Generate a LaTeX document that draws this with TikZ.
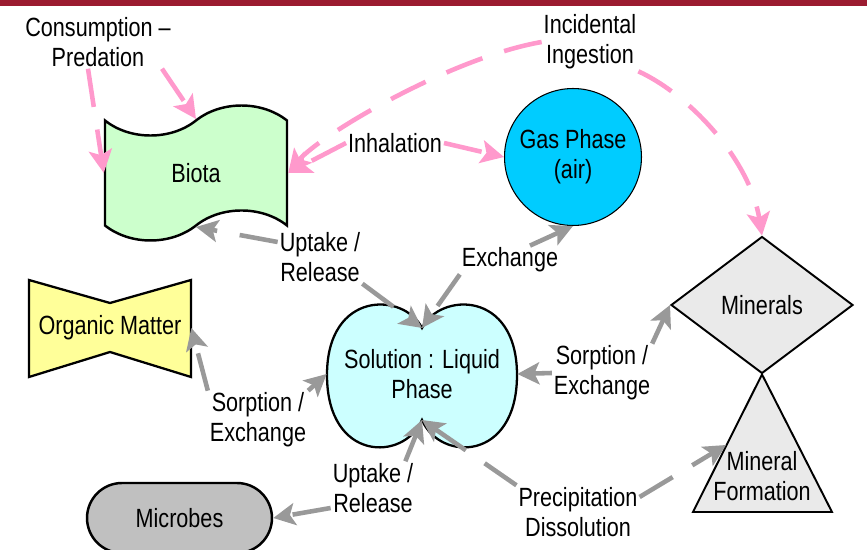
\documentclass[tikz,border=0pt]{standalone}
\usepackage{fontspec}
\setmainfont{Liberation Sans}[FakeStretch=0.82]
\usetikzlibrary{shapes.geometric,shapes.symbols,arrows.meta}
\definecolor{barred}{RGB}{155,27,48}
\definecolor{biotagreen}{RGB}{204,255,204}
\definecolor{gasblue}{RGB}{0,204,255}
\definecolor{solcyan}{RGB}{204,255,255}
\definecolor{orgyellow}{RGB}{255,255,153}
\definecolor{minegray}{RGB}{234,234,234}
\definecolor{microgray}{RGB}{192,192,192}
\definecolor{flowpink}{RGB}{255,153,204}
\definecolor{flowgray}{RGB}{153,153,153}
\tikzset{
  pinkflow/.style={draw=flowpink, line width=2.6pt, dash pattern=on 22pt off 13pt,
    -{Stealth[length=0.46cm,width=0.46cm,inset=0.1cm]}},
  grayflow/.style={draw=flowgray, line width=2.6pt, dash pattern=on 22pt off 13pt,
    -{Stealth[length=0.44cm,width=0.44cm,inset=0.1cm]}},
  lbl/.style={align=center, inner sep=1pt},
}
\begin{document}
\begin{tikzpicture}[x=0.02cm, y=-0.02cm, font=\fontsize{15pt}{17pt}\selectfont]
%\draw[help lines] (0,0) grid (867,550);
\useasboundingbox (0,0) rectangle (867,550);
\fill[barred] (0,0) rectangle (867,6.5);
% compartments
\node (biota) [tape, draw, line width=1.4pt, fill=biotagreen, minimum width=3.64cm, minimum height=2.7cm, tape bend height=0.6cm] at (196,173) {Biota};
\node (gas) [circle, draw, line width=0.6pt, fill=gasblue, minimum size=2.74cm, align=center] at (573,157) {Gas Phase\\(air)};
\draw[fill=orgyellow, line width=1.3pt] (29,280) -- (110,303) -- (191,280) -- (191,377) -- (110,352) -- (29,377) -- cycle;
\node (org) [minimum width=3.24cm, minimum height=1.94cm] at (110,328) {Organic Matter};
\draw[fill=solcyan, line width=1.3pt] (422,328) .. controls (440,292) and (517,290) .. (517,375)
  .. controls (517,462) and (440,462) .. (422,420) .. controls (404,462) and (327,462) .. (327,375)
  .. controls (327,290) and (404,292) .. (422,328) -- cycle;
\node (sol) [minimum width=3.8cm, minimum height=2.4cm, align=center] at (422,374) {Solution : Liquid\\Phase};
\coordinate (soltop) at (422,328);
\coordinate (solbot) at (422,420);
\node (min) [diamond, draw, line width=1.1pt, fill=minegray, minimum width=3.64cm, minimum height=2.74cm, inner sep=0pt] at (762,305) {Minerals};
\draw[fill=minegray, line width=1.1pt] (min.south) -- (832,512) -- (693,512) -- cycle;
\node (tri) [lbl] at (762,476) {Mineral\\Formation};
\coordinate (trileft) at (726,445);
\node (mic) [draw, line width=1.4pt, fill=microgray, rounded corners=0.7cm, minimum width=3.7cm, minimum height=1.4cm] at (179.5,518) {Microbes};
% process labels
\node (cons) [lbl] at (98,42) {Consumption –\\Predation};
\node (inc) [lbl] at (590,42) {Incidental\\Ingestion};
\node (inh) [lbl] at (395,143) {Inhalation};
\node (upt1) [lbl] at (320,257) {Uptake /\\Release};
\node (exch) [lbl] at (510,260) {Exchange};
\node (sorpl) [lbl] at (258,420) {Sorption /\\Exchange};
\node (sorpr) [lbl] at (602,373) {Sorption /\\Exchange};
\node (upt2) [lbl] at (373,488) {Uptake /\\Release};
\node (prec) [lbl] at (578,512) {Precipitation\\Dissolution};
% flows
\path
([xshift=-0.2cm]cons.south) edge[pinkflow] (biota.west)
([xshift=1.28cm]cons.south) edge[pinkflow] (biota.north)
(inh.west) edge[pinkflow] (biota.east)
(inh.east) edge[pinkflow] (gas.west);
\draw[pinkflow] (inc.west) .. controls (450,58) and (320,135) .. (biota.east);
\draw[pinkflow] (inc.south east) .. controls (690,95) and (750,160) .. (min.north);
\path
([yshift=0.3cm]upt1.west) edge[grayflow] (biota.south)
(upt1.south east) edge[grayflow] (soltop)
([xshift=0.4cm]exch.north) edge[grayflow] (gas.south)
(exch.south west) edge[grayflow] (soltop)
(sorpl.north west) edge[grayflow] (org.east)
(sorpl.north east) edge[grayflow] (sol.west)
(sorpr.west) edge[grayflow] (sol.east)
(sorpr.north east) edge[grayflow] (min.west)
([yshift=-0.4cm]upt2.west) edge[grayflow] (mic.east)
([xshift=-0.2cm]upt2.north east) edge[grayflow] (solbot)
(prec.north west) edge[grayflow] (solbot)
([yshift=0.3cm]prec.east) edge[grayflow] (trileft);
\end{tikzpicture}
\end{document}
